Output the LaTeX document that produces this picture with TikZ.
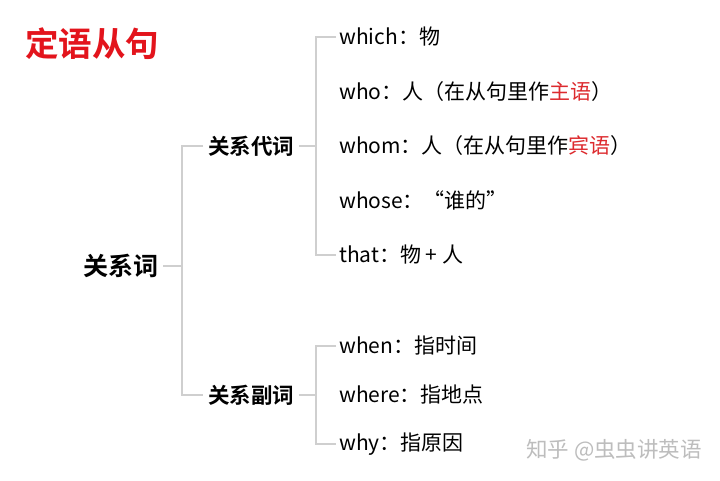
\documentclass[tikz,border=0pt]{standalone}
\usepackage{fontspec}
\setmainfont{Noto Sans CJK SC}
\newfontfamily\cjkb{Noto Sans CJK SC Bold}
\definecolor{titlered}{HTML}{E3141C}
\definecolor{accred}{HTML}{DD2A2E}
\definecolor{linegray}{HTML}{CFCFCF}
\definecolor{wmgray}{HTML}{BDBDBD}
\begin{document}
\begin{tikzpicture}[x=1pt,y=-1pt,
  conn/.style={draw=linegray,line width=1.3pt},
  titlenode/.style={inner sep=0pt,anchor=west,text=titlered,font=\fontsize{33.5}{33.5}\cjkb},
  rootnode/.style={inner xsep=5pt,inner ysep=0pt,anchor=west,font=\fontsize{25}{25}\cjkb},
  midnode/.style={inner xsep=5pt,inner ysep=0pt,anchor=west,font=\fontsize{21.5}{21.5}\cjkb},
  leaf/.style={inner xsep=3pt,inner ysep=0pt,anchor=west,font=\fontsize{21}{21}\selectfont},
  wm/.style={inner sep=0pt,anchor=west,text=wmgray,font=\fontsize{21.5}{21.5}\selectfont}]
\useasboundingbox[fill=white] (0,0) rectangle (720,480);
\node[titlenode] (title) at (25,44) {定语从句};
\node[rootnode] (root) at (78,266) {关系词};
\node[midnode] (pron) at (203,146) {关系代词};
\node[midnode] (adv) at (203,395) {关系副词};
\node[leaf] (which) at (336,37) {which：物};
\node[leaf] (who) at (336,92) {who：人（在从句里作\textcolor{accred}{主语}）};
\node[leaf] (whom) at (336,146) {whom：人（在从句里作\textcolor{accred}{宾语}）};
\node[leaf] (whose) at (336,200) {whose：“谁的”};
\node[leaf] (that) at (336,255) {that：物 + 人};
\node[leaf] (when) at (336,346) {when：指时间};
\node[leaf] (where) at (336,395) {where：指地点};
\node[leaf] (why) at (336,444) {why：指原因};
\node[wm] (mark) at (526,450) {知乎 @虫虫讲英语};
\coordinate (j1) at (182,0);
\coordinate (j2) at (316,0);
\draw[conn] (root.east) -- (root.east -| j1);
\draw[conn] (pron.west) -- (pron.west -| j1) -- (adv.west -| j1) -- (adv.west);
\draw[conn] (pron.east) -- (pron.east -| j2);
\draw[conn] (which.west) -- (which.west -| j2) -- (that.west -| j2) -- (that.west);
\draw[conn] (adv.east) -- (adv.east -| j2);
\draw[conn] (when.west) -- (when.west -| j2) -- (why.west -| j2) -- (why.west);
\end{tikzpicture}
\end{document}
